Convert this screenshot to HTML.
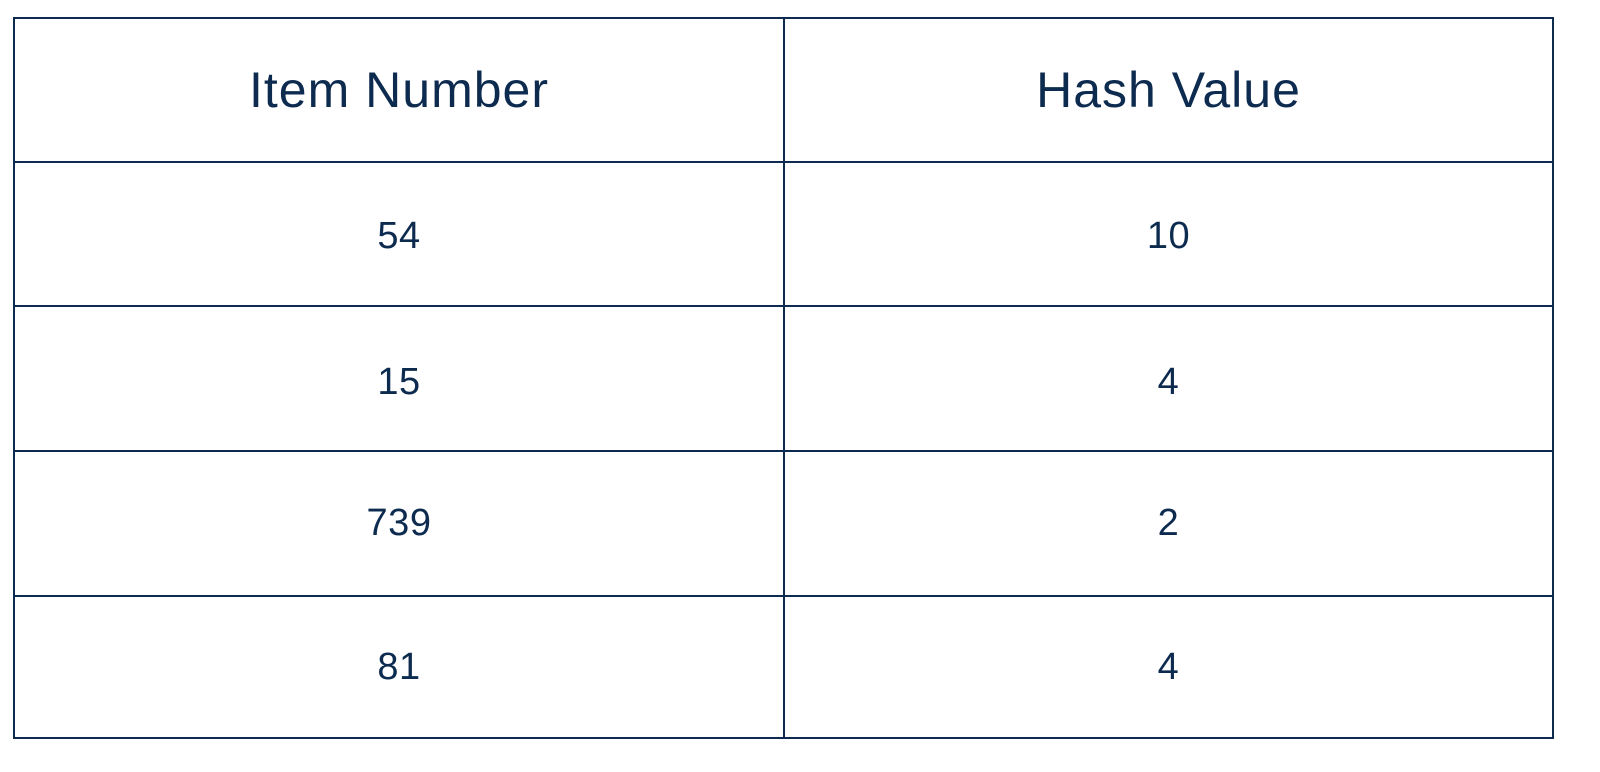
<!DOCTYPE html>
<html>
<head>
<meta charset="utf-8">
<style>
  html,body{margin:0;padding:0;background:#fff;}
  body{width:1600px;height:772px;position:relative;overflow:hidden;font-family:"Liberation Sans",sans-serif;color:#0d2b4f;}
  .line{position:absolute;background:#0d2b4f;}
  .cell{position:absolute;display:flex;align-items:center;justify-content:center;}
  .hdr{font-size:50px;letter-spacing:1px;}
  .val{font-size:38px;letter-spacing:0.5px;}
</style>
</head>
<body>
<div>
  <div class="line" style="left:13px;top:17px;width:1541px;height:2px"></div>
  <div class="line" style="left:13px;top:737px;width:1541px;height:2px"></div>
  <div class="line" style="left:13px;top:17px;width:2px;height:722px"></div>
  <div class="line" style="left:1552px;top:17px;width:2px;height:722px"></div>
  <div class="line" style="left:783px;top:17px;width:2px;height:722px"></div>
  <div class="line" style="left:13px;top:161px;width:1541px;height:2px"></div>
  <div class="line" style="left:13px;top:305px;width:1541px;height:2px"></div>
  <div class="line" style="left:13px;top:450px;width:1541px;height:2px"></div>
  <div class="line" style="left:13px;top:595px;width:1541px;height:2px"></div>

  <div class="cell hdr" style="left:15px;top:19px;width:768px;height:142px">Item Number</div>
  <div class="cell hdr" style="left:785px;top:19px;width:767px;height:142px">Hash Value</div>

  <div class="cell val" style="left:15px;top:165px;width:768px;height:142px">54</div>
  <div class="cell val" style="left:785px;top:165px;width:767px;height:142px">10</div>
  <div class="cell val" style="left:15px;top:311px;width:768px;height:143px">15</div>
  <div class="cell val" style="left:785px;top:311px;width:767px;height:143px">4</div>
  <div class="cell val" style="left:15px;top:452px;width:768px;height:143px">739</div>
  <div class="cell val" style="left:785px;top:452px;width:767px;height:143px">2</div>
  <div class="cell val" style="left:15px;top:597px;width:768px;height:140px">81</div>
  <div class="cell val" style="left:785px;top:597px;width:767px;height:140px">4</div>
</div>
</body>
</html>
